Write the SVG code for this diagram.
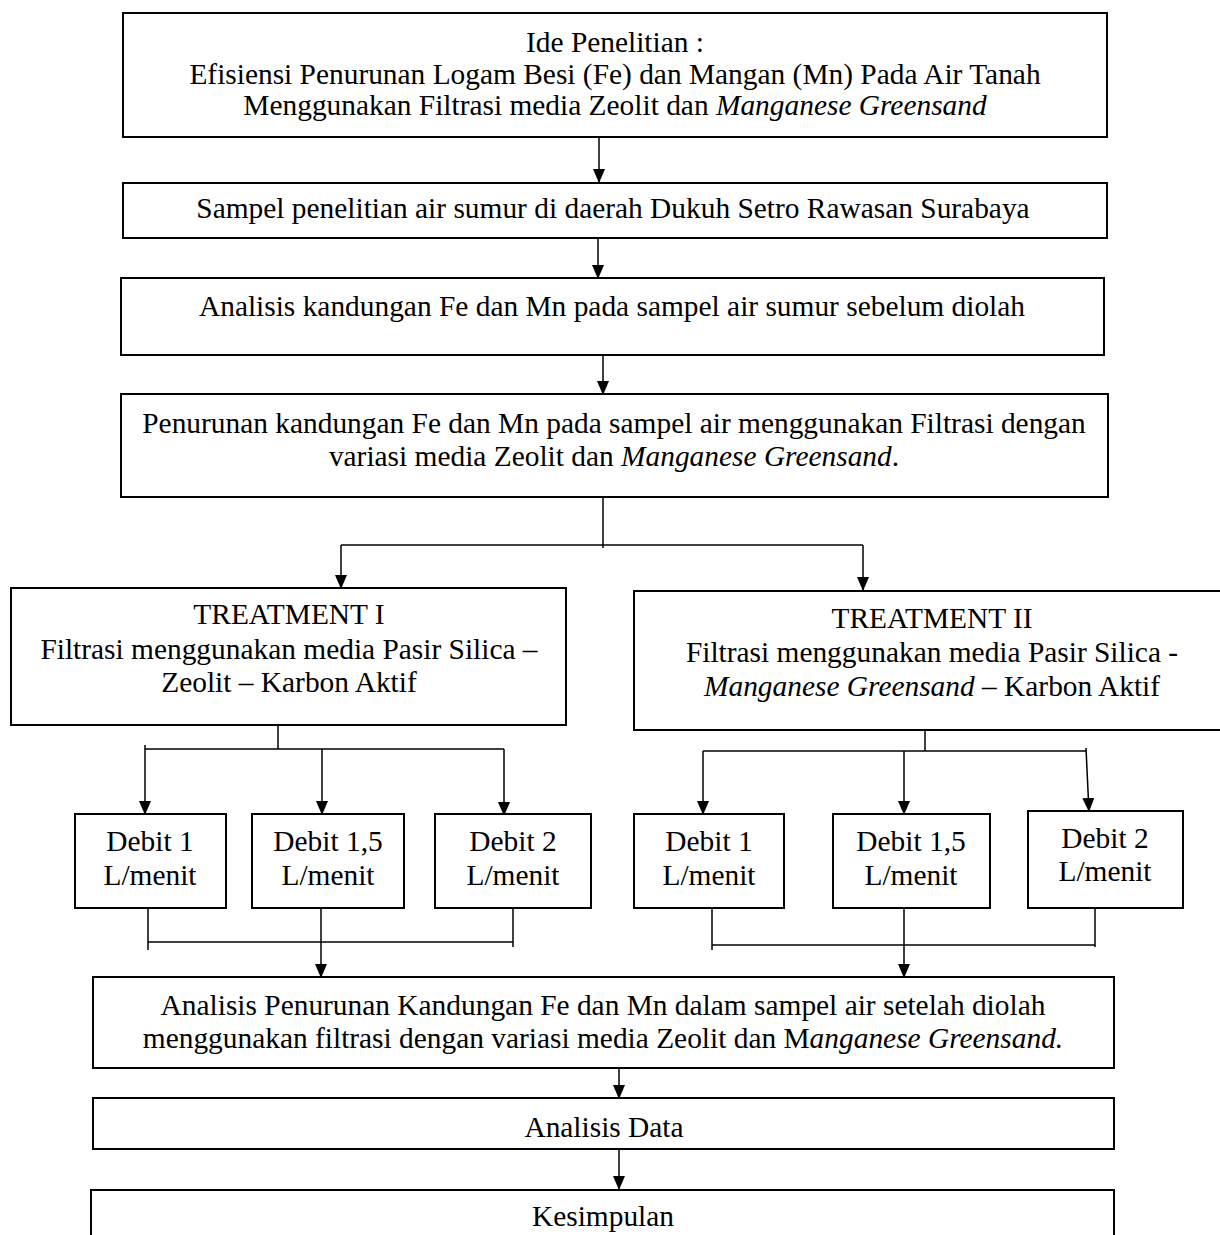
<svg xmlns="http://www.w3.org/2000/svg" width="1220" height="1235" viewBox="0 0 1220 1235">
<style>
.box{fill:#fff;stroke:#000;stroke-width:2}
.t{font-family:"Liberation Serif","Times New Roman",serif;font-size:29.4px;fill:#000;text-anchor:middle}
.i{font-style:italic}
.c{stroke:#000;stroke-width:1.5;fill:none}
.a{marker-end:url(#ah)}
</style>
<defs>
<marker id="ah" markerUnits="userSpaceOnUse" markerWidth="14" markerHeight="12" refX="14" refY="6" orient="auto">
<path d="M0,0 L14,6 L0,12 z" fill="#000"/>
</marker>
</defs>
<rect width="1220" height="1235" fill="#fff"/>
<g id="connectors">
<line class="c a" x1="599" y1="137" x2="599" y2="183"/>
<line class="c a" x1="598" y1="238" x2="598" y2="279"/>
<line class="c a" x1="603" y1="352" x2="603" y2="395"/>
<line class="c" x1="603" y1="487" x2="603" y2="548"/>
<line class="c" x1="341" y1="545" x2="863" y2="545"/>
<line class="c a" x1="341" y1="545" x2="341" y2="589"/>
<line class="c a" x1="863" y1="545" x2="863" y2="591"/>
<line class="c" x1="278" y1="715" x2="278" y2="749"/>
<line class="c" x1="145" y1="749" x2="504" y2="749"/>
<line class="c a" x1="145" y1="745" x2="145" y2="815"/>
<line class="c a" x1="322" y1="749" x2="322" y2="815"/>
<line class="c a" x1="504" y1="749" x2="504" y2="816"/>
<line class="c" x1="925" y1="719" x2="925" y2="751"/>
<line class="c" x1="703" y1="751" x2="1086" y2="751"/>
<line class="c a" x1="703" y1="751" x2="703" y2="815"/>
<line class="c a" x1="904" y1="751" x2="904" y2="815"/>
<line class="c a" x1="1086" y1="748" x2="1089" y2="812"/>
<line class="c" x1="148" y1="903" x2="148" y2="950"/>
<line class="c" x1="513" y1="903" x2="513" y2="947"/>
<line class="c" x1="148" y1="942" x2="513" y2="942"/>
<line class="c a" x1="321" y1="903" x2="321" y2="978"/>
<line class="c" x1="712" y1="903" x2="712" y2="950"/>
<line class="c" x1="1095" y1="903" x2="1095" y2="947"/>
<line class="c" x1="712" y1="945" x2="1095" y2="945"/>
<line class="c a" x1="904" y1="903" x2="904" y2="978"/>
<line class="c a" x1="619" y1="1063" x2="619" y2="1099"/>
<line class="c a" x1="619" y1="1149" x2="619" y2="1190"/>
</g>
<g id="ide">
<rect class="box" x="123" y="13" width="984" height="124"/>
<text class="t" x="615" y="52">Ide Penelitian :</text>
<text class="t" x="615" y="84">Efisiensi Penurunan Logam Besi (Fe) dan Mangan (Mn) Pada Air Tanah</text>
<text class="t" x="615" y="115">Menggunakan Filtrasi media Zeolit dan <tspan class="i">Manganese Greensand</tspan></text>
</g>
<g id="sampel">
<rect class="box" x="123" y="183" width="984" height="55"/>
<text class="t" x="613" y="218">Sampel penelitian air sumur di daerah Dukuh Setro Rawasan Surabaya</text>
</g>
<g id="analisis-awal">
<rect class="box" x="121" y="278" width="983" height="77"/>
<text class="t" x="612" y="316">Analisis kandungan Fe dan Mn pada sampel air sumur sebelum diolah</text>
</g>
<g id="penurunan">
<rect class="box" x="121" y="394" width="987" height="103"/>
<text class="t" x="614" y="433">Penurunan kandungan Fe dan Mn pada sampel air menggunakan Filtrasi dengan</text>
<text class="t" x="614" y="466">variasi media Zeolit dan <tspan class="i">Manganese Greensand</tspan>.</text>
</g>
<g id="treatment1">
<rect class="box" x="11" y="588" width="555" height="137"/>
<text class="t" x="289" y="624">TREATMENT I</text>
<text class="t" x="289" y="659">Filtrasi menggunakan media Pasir Silica –</text>
<text class="t" x="289" y="692">Zeolit – Karbon Aktif</text>
</g>
<g id="treatment2">
<rect class="box" x="634" y="591" width="600" height="139"/>
<text class="t" x="932" y="628">TREATMENT II</text>
<text class="t" x="932" y="662">Filtrasi menggunakan media Pasir Silica -</text>
<text class="t" x="932" y="696"><tspan class="i">Manganese Greensand</tspan> – Karbon Aktif</text>
</g>
<g id="t1-debit1">
<rect class="box" x="75" y="814" width="151" height="94"/>
<text class="t" x="150" y="851">Debit 1</text>
<text class="t" x="150" y="885">L/menit</text>
</g>
<g id="t1-debit15">
<rect class="box" x="252" y="814" width="152" height="94"/>
<text class="t" x="328" y="851">Debit 1,5</text>
<text class="t" x="328" y="885">L/menit</text>
</g>
<g id="t1-debit2">
<rect class="box" x="435" y="814" width="156" height="94"/>
<text class="t" x="513" y="851">Debit 2</text>
<text class="t" x="513" y="885">L/menit</text>
</g>
<g id="t2-debit1">
<rect class="box" x="634" y="814" width="150" height="94"/>
<text class="t" x="709" y="851">Debit 1</text>
<text class="t" x="709" y="885">L/menit</text>
</g>
<g id="t2-debit15">
<rect class="box" x="833" y="814" width="157" height="94"/>
<text class="t" x="911" y="851">Debit 1,5</text>
<text class="t" x="911" y="885">L/menit</text>
</g>
<g id="t2-debit2">
<rect class="box" x="1028" y="811" width="155" height="97"/>
<text class="t" x="1105" y="848">Debit 2</text>
<text class="t" x="1105" y="881">L/menit</text>
</g>
<g id="analisis-akhir">
<rect class="box" x="93" y="977" width="1021" height="91"/>
<text class="t" x="603" y="1015">Analisis Penurunan Kandungan Fe dan Mn dalam sampel air setelah diolah</text>
<text class="t" x="603" y="1048">menggunakan filtrasi dengan variasi media Zeolit dan M<tspan class="i">anganese Greensand.</tspan></text>
</g>
<g id="analisis-data">
<rect class="box" x="93" y="1098" width="1021" height="51"/>
<text class="t" x="604" y="1137">Analisis Data</text>
</g>
<g id="kesimpulan">
<rect class="box" x="91" y="1190" width="1023" height="60"/>
<text class="t" x="603" y="1226">Kesimpulan</text>
</g>
</svg>
